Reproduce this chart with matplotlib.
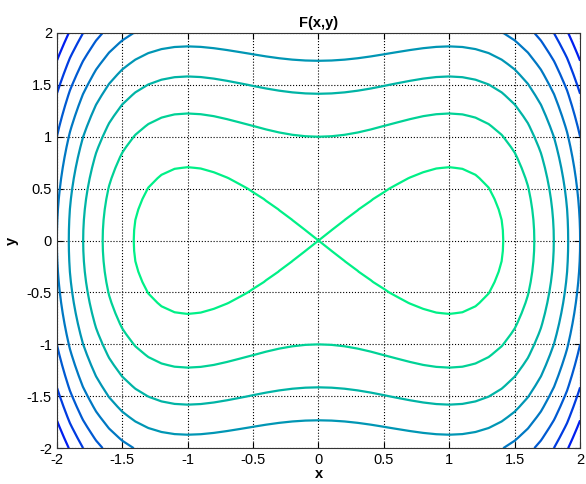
import matplotlib
matplotlib.use('Agg')
import matplotlib.pyplot as plt
import numpy as np

plt.rcParams['font.family'] = ['Liberation Sans', 'DejaVu Sans']

# sample grid (like the original meshgrid -2:0.1:2)
x_vals = np.linspace(-2, 2, 41)
y_vals = np.linspace(-2, 2, 41)
levels = [0, 2, 4, 6, 8, 10, 12, 14]

X, Y = np.meshgrid(x_vals, y_vals)
F = X**4 - 2 * X**2 + 2 * Y**2

fig = plt.figure(figsize=(5.86, 4.84), dpi=100)
ax = fig.add_axes([0.097, 0.074, 0.893, 0.858])

ax.contour(X, Y, F, levels=levels, cmap='winter_r', vmin=-1, vmax=16, linewidths=1.6)

ax.set_xlim(-2, 2)
ax.set_ylim(-2, 2)
ax.set_xticks(np.arange(-2, 2.01, 0.5))
ax.set_yticks(np.arange(-2, 2.01, 0.5))
ax.set_xticklabels(['-2', '-1.5', '-1', '-0.5', '0', '0.5', '1', '1.5', '2'])
ax.set_yticklabels(['-2', '-1.5', '-1', '-0.5', '0', '0.5', '1', '1.5', '2'])
ax.tick_params(direction='in', top=True, right=True, labelsize=10.5, length=4)
ax.grid(True, color='black', linestyle=':', linewidth=0.8)
for s in ax.spines.values():
    s.set_color('#333333')

ax.set_title('F(x,y)', fontsize=10.5, fontweight='bold', pad=4)
ax.set_xlabel('x', fontsize=10.5, fontweight='bold', labelpad=0)
ax.set_ylabel('y', fontsize=10.5, fontweight='bold', labelpad=6)

fig.savefig('out.png', dpi=100)
